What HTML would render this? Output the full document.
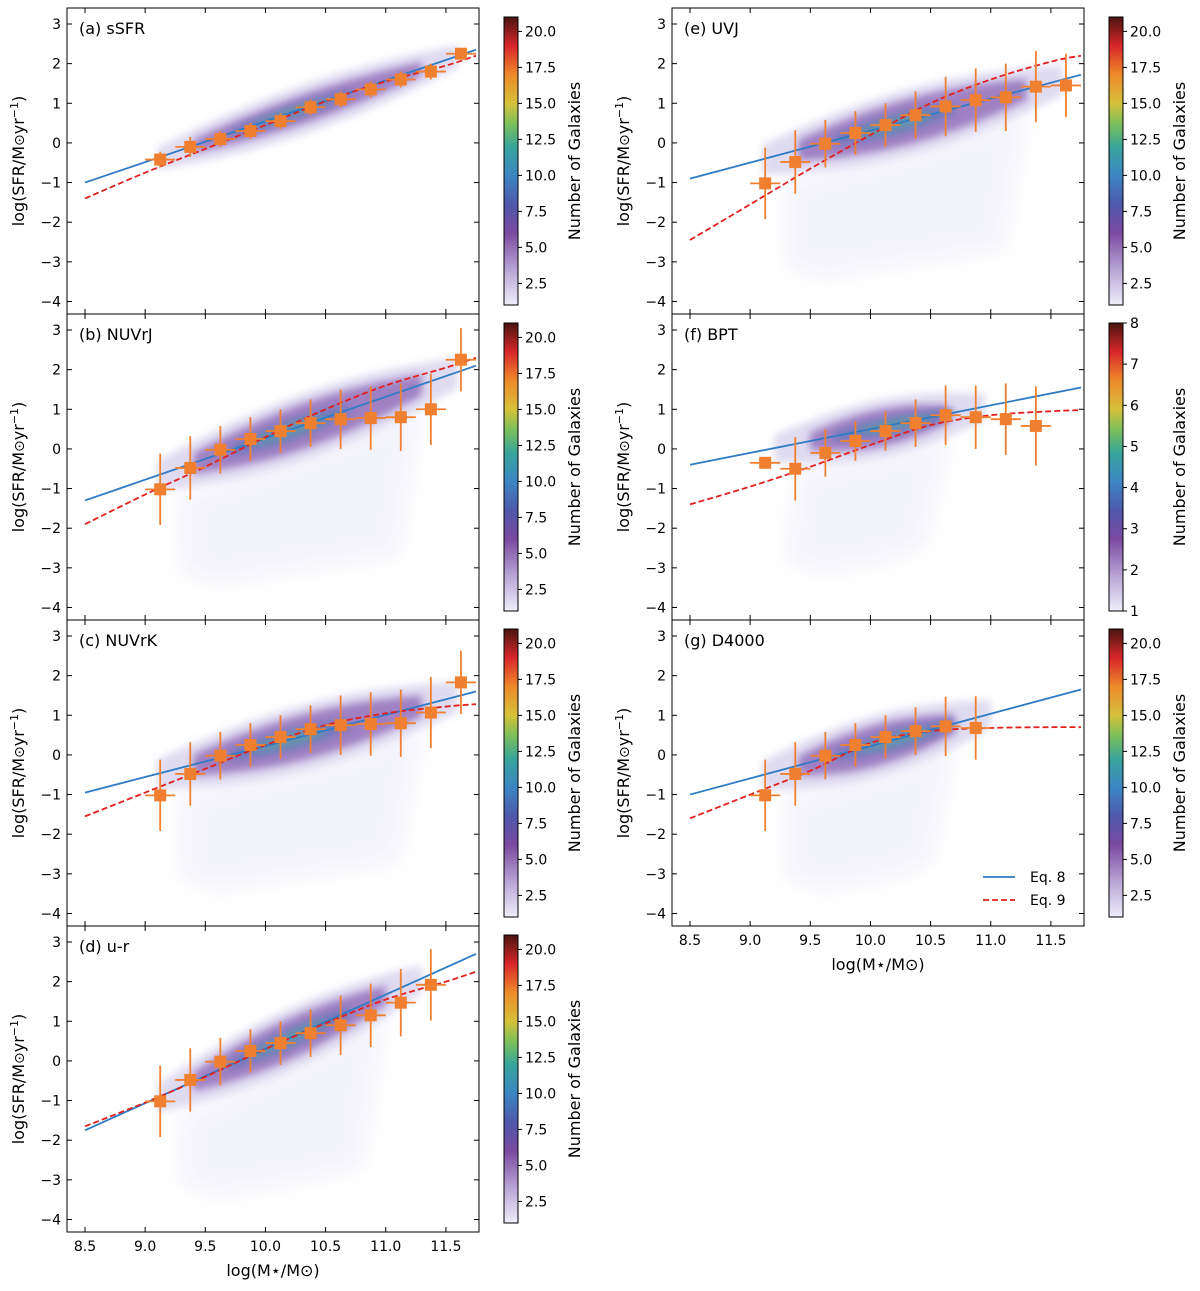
<!DOCTYPE html>
<html><head><meta charset="utf-8"><style>
body{margin:0;background:#fff}
svg text{font-family:"DejaVu Sans","Liberation Sans",sans-serif;fill:#000}
</style></head><body>
<svg id="fig" width="1200" height="1286" viewBox="0 0 1200 1286" xmlns="http://www.w3.org/2000/svg">
<defs>
<linearGradient id="cmap" x1="0" y1="1" x2="0" y2="0">
<stop offset="0" stop-color="#eeeefa"/><stop offset="0.12" stop-color="#b9a6d6"/>
<stop offset="0.25" stop-color="#7a4aa0"/><stop offset="0.35" stop-color="#4f58ad"/>
<stop offset="0.45" stop-color="#3b86c4"/><stop offset="0.55" stop-color="#38a59a"/>
<stop offset="0.63" stop-color="#7cc05a"/><stop offset="0.7" stop-color="#d6c13a"/>
<stop offset="0.8" stop-color="#ee8a2a"/><stop offset="0.9" stop-color="#d8262a"/>
<stop offset="1" stop-color="#4a1410"/></linearGradient>
<filter id="blur"><feGaussianBlur stdDeviation="4"/></filter>
<filter id="blur2"><feGaussianBlur stdDeviation="10"/></filter>
</defs>
<g id="root"></g>
</svg>
<script>
// ---- data ----
const panelNames = ["(a) sSFR","(b) NUVrJ","(c) NUVrK","(d) u-r","(e) UVJ","(f) BPT","(g) D4000"];
const binX = [9.125,9.375,9.625,9.875,10.125,10.375,10.625,10.875,11.125,11.375,11.625];
const medA = [-0.42,-0.1,0.1,0.3,0.55,0.9,1.1,1.35,1.6,1.8,2.25];
const medB = [-1.02,-0.48,-0.02,0.25,0.45,0.65,0.75,0.78,0.8,1.0,2.25];
const medC = [-1.02,-0.48,-0.02,0.25,0.45,0.65,0.75,0.78,0.8,1.07,1.83];
const medD = [-1.02,-0.48,-0.02,0.25,0.45,0.7,0.9,1.15,1.47,1.92];
const medE = [-1.02,-0.48,-0.02,0.25,0.45,0.7,0.92,1.08,1.15,1.42,1.45];
const medF = [-0.35,-0.5,-0.1,0.2,0.45,0.65,0.85,0.8,0.75,0.58];
const medG = [-1.02,-0.48,-0.02,0.25,0.45,0.6,0.72,0.68];
const errA = [0.2,0.25,0.2,0.2,0.2,0.2,0.2,0.2,0.2,0.2,0.15];
const errWide = [0.9,0.8,0.6,0.55,0.55,0.6,0.75,0.8,0.85,0.9,0.8];
const errF = [0.1,0.8,0.6,0.5,0.5,0.6,0.75,0.8,0.9,1.0];
const blueStart = [-1.0,-1.3,-0.95,-1.75,-0.9,-0.4,-1.0];
const blueEnd = [2.35,2.1,1.6,2.7,1.72,1.55,1.65];
const redX = [8.5,9,9.5,10,10.5,11,11.5,11.75];
const redA = [-1.4,-0.75,-0.15,0.45,1.05,1.55,1.95,2.2];
const redB = [-1.9,-1.15,-0.45,0.3,1.0,1.6,2.05,2.3];
const redC = [-1.55,-0.95,-0.35,0.25,0.75,1.05,1.22,1.28];
const redD = [-1.65,-1.05,-0.4,0.3,0.95,1.55,2.0,2.25];
const redE = [-2.45,-1.55,-0.65,0.2,1.0,1.6,2.05,2.2];
const redF = [-1.4,-0.95,-0.45,0.1,0.6,0.85,0.95,0.98];
const redG = [-1.6,-1.0,-0.4,0.3,0.6,0.68,0.7,0.7];
const yTicks = [3,2,1,0,-1,-2,-3,-4];
const xTicks = [8.5,9.0,9.5,10.0,10.5,11.0,11.5];
const cbTicks = ["2.5","5.0","7.5","10.0","12.5","15.0","17.5","20.0"];
const cbTickVals = [2.5,5,7.5,10,12.5,15,17.5,20];
const cbTicksF = [1,2,3,4,5,6,7,8];
const cloudXmin = [9.2,9.2,9.2,9.2,9.2,9.3,9.2];
const cloudXmax = [11.6,11.6,11.6,11.3,11.6,10.95,11.0];
const cloudHalf = [0.35,0.55,0.55,0.5,0.55,0.45,0.5];
const cloudLow = [-0.6,-3.6,-3.6,-3.6,-3.6,-3.3,-3.6];

const medians=[medA,medB,medC,medD,medE,medF,medG];
const errs=[errA,errWide,errWide,errWide,errWide,errF,errWide];
const reds=[redA,redB,redC,redD,redE,redF,redG];
const NS="http://www.w3.org/2000/svg";
const root=document.getElementById('root');
function el(t,a,p){const e=document.createElementNS(NS,t);for(const k in a)e.setAttribute(k,a[k]);(p||root).appendChild(e);return e;}
const pos=[[0,8],[0,314],[0,620],[0,926],[605,8],[605,314],[605,620]];
const PL=67,PR=479,PH=306;
for(let p=0;p<7;p++){
  const ox=pos[p][0],top=pos[p][1];
  const X=v=>ox+85+(v-8.5)*120.3;
  const Y=v=>top+16+(3-v)*39.64;
  const g=el('g',{});
  
  
  const clip='clip'+p;
  const cp=el('clipPath',{id:clip},g);el('rect',{x:ox+PL,y:top,width:PR-PL,height:PH},cp);
  const plot=el('g',{'clip-path':'url(#'+clip+')'},g);
  const bs=blueStart[p],be=blueEnd[p];
  const bl=v=>bs+(be-bs)*(v-8.5)/3.25;
  const x0=cloudXmin[p],x1=cloudXmax[p],h=cloudHalf[p];
  if(cloudLow[p]<-1){
    const sc=el('path',{d:`M${X(x0+0.1)},${Y(bl(x0)-0.6)} L${X(x1-0.3)},${Y(bl(x1)-0.8)} L${X(x1-0.5)},${Y(cloudLow[p]+0.9)} L${X(10.2)},${Y(cloudLow[p]+0.5)} L${X(9.6)},${Y(cloudLow[p]+0.2)} L${X(9.3)},${Y(cloudLow[p]+0.5)} Z`,fill:'#e8e8f6',opacity:0.5,filter:'url(#blur2)'},plot);
    
    
  }
  const band=(hh,fill,op,a,b)=>{const pts=[];for(let i=0;i<=10;i++){const v=a+(b-a)*i/10;pts.push(X(v)+','+Y(bl(v)+hh*Math.sin(Math.PI*(0.15+0.7*i/10))));}for(let i=10;i>=0;i--){const v=a+(b-a)*i/10;pts.push(X(v)+','+Y(bl(v)-hh*1.1*Math.sin(Math.PI*(0.15+0.7*i/10))));}const e=el('polygon',{points:pts.join(' '),fill:fill,opacity:op,filter:'url(#blur)'},plot);return e;};
  const b1=band(h+0.25,'#dcd8f0',0.9,x0-0.1,x1);
  const b2=band(h,'#8a62b4',0.75,x0+0.2,x1-0.3);
  const b3=band(h*0.45,'#4f74b8',0.6,9.7,10.7);
  const b4=band(h*0.25,'#5cb49a',0.55,9.9,10.5);
  const ln=el('line',{x1:X(8.5),y1:Y(bs),x2:X(11.75),y2:Y(be),stroke:'#2f7bc4','stroke-width':1.8},plot);
  
  const r=reds[p];let d='M'+X(redX[0])+','+Y(r[0]);
  for(let i=0;i<redX.length-1;i++){const p0=i>0?i-1:i,p3=i+2<redX.length?i+2:i+1;
    const c1x=X(redX[i])+(X(redX[i+1])-X(redX[p0]))/6,c1y=Y(r[i])+(Y(r[i+1])-Y(r[p0]))/6;
    const c2x=X(redX[i+1])-(X(redX[p3])-X(redX[i]))/6,c2y=Y(r[i+1])-(Y(r[p3])-Y(r[i]))/6;
    d+=` C${c1x},${c1y} ${c2x},${c2y} ${X(redX[i+1])},${Y(r[i+1])}`;}
  const rl=el('path',{d:d,fill:'none',stroke:'#e32020','stroke-width':1.8,'stroke-dasharray':'6,3'},plot);
  
  const m=medians[p],er=errs[p];
  for(let i=0;i<m.length;i++){
    const mg=el('g',{stroke:'#f08030','stroke-width':1.8},plot);
    
    
    el('line',{x1:X(binX[i]-0.125),x2:X(binX[i]+0.125),y1:Y(m[i]),y2:Y(m[i])},mg);
    el('line',{x1:X(binX[i]),x2:X(binX[i]),y1:Y(m[i]+er[i]),y2:Y(m[i]-er[i])},mg);
    el('rect',{x:X(binX[i])-6,y:Y(m[i])-6,width:12,height:12,fill:'#f08030',stroke:'none'},mg);
  }
  const fr=el('rect',{x:ox+PL,y:top,width:PR-PL,height:PH,fill:'none',stroke:'#000','stroke-width':1},g);
  
  yTicks.forEach(t=>{const yy=Y(t);el('line',{x1:ox+PL,x2:ox+PL+5,y1:yy,y2:yy,stroke:'#000'},g);el('line',{x1:ox+PR-5,x2:ox+PR,y1:yy,y2:yy,stroke:'#000'},g);
    const tx=el('text',{x:ox+PL-6,y:yy+5,'text-anchor':'end','font-size':14},g);tx.textContent=t<0?'\u2212'+(-t):t;
    });
  xTicks.forEach(t=>{const xx=X(t);el('line',{x1:xx,x2:xx,y1:top+PH,y2:top+PH-5,stroke:'#000'},g);el('line',{x1:xx,x2:xx,y1:top,y2:top+5,stroke:'#000'},g);});
  if(p===3||p===6){xTicks.forEach(t=>{const tx=el('text',{x:X(t),y:top+PH+19,'text-anchor':'middle','font-size':14},g);tx.textContent=t.toFixed(1);
    });
    const xt=el('text',{x:ox+273,y:top+PH+44,'text-anchor':'middle','font-size':16},g);xt.textContent='log(M\u22c6/M\u2299)';
    }
  const yt=el('text',{x:0,y:0,'text-anchor':'middle','font-size':16,transform:`translate(${ox+24},${top+153}) rotate(-90)`},g);
  yt.innerHTML='log(SFR/M<tspan font-size="14">\u2299</tspan>yr<tspan dy="-6" font-size="11">\u22121</tspan><tspan dy="6">)</tspan>';
  
  const pl=el('text',{x:ox+79,y:top+26,'font-size':16},g);pl.textContent=panelNames[p];
  
  const cx=ox+504,cy0=top+9,cy1=top+297;
  const cb=el('rect',{x:cx,y:cy0,width:14,height:cy1-cy0,fill:'url(#cmap)',stroke:'#000','stroke-width':1},g);
  
  const vmin=1,vmax=p===5?8:21;
  const tv=p===5?cbTicksF:cbTickVals;
  tv.forEach((t,i)=>{const yy=cy1-(t-vmin)/(vmax-vmin)*(cy1-cy0);el('line',{x1:cx+14,x2:cx+18,y1:yy,y2:yy,stroke:'#000'},g);
    const tx=el('text',{x:cx+21,y:yy+5,'font-size':14},g);tx.textContent=p===5?String(t):cbTicks[i];
    });
  const ct=el('text',{x:0,y:0,'text-anchor':'middle','font-size':16,transform:`translate(${ox+580},${top+153}) rotate(-90)`},g);ct.textContent='Number of Galaxies';
  
  if(p===6){const lg=el('g',{},g);
    el('line',{x1:ox+378,x2:ox+410,y1:top+257,y2:top+257,stroke:'#2f7bc4','stroke-width':1.8},lg);
    el('line',{x1:ox+378,x2:ox+410,y1:top+280,y2:top+280,stroke:'#e32020','stroke-width':1.8,'stroke-dasharray':'6,3'},lg);
    const t1=el('text',{x:ox+425,y:top+262,'font-size':14},lg);t1.textContent='Eq. 8';
    const t2=el('text',{x:ox+425,y:top+285,'font-size':14},lg);t2.textContent='Eq. 9';}
}
</script>
</body></html>
